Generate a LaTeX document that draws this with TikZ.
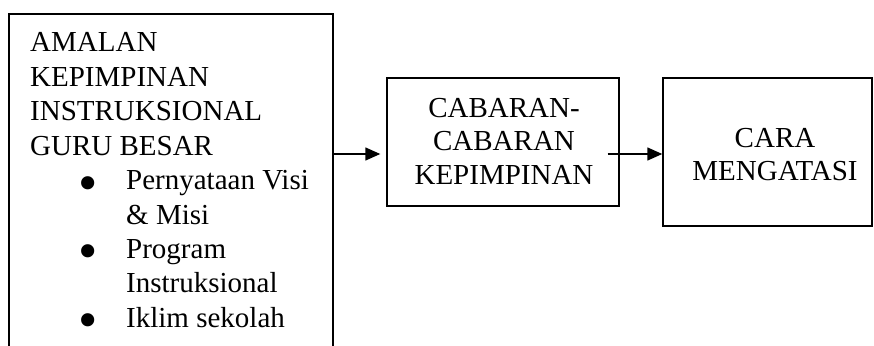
\documentclass[tikz,border=0pt]{standalone}
\usepackage{fontspec}
\setmainfont{Liberation Serif}
\usetikzlibrary{arrows.meta}

\tikzset{
  box/.style={draw, line width=1.4pt, inner sep=0pt, rectangle},
  label/.style={inner sep=0pt, anchor=base},
  flow/.style={line width=1.4pt, -{Triangle[length=15pt, width=13pt]}},
}
\newcommand{\bodyfont}{\fontsize{29}{34.4}\selectfont}
% large round list bullet
\newcommand{\bigdot}{\smash{\raisebox{-11.5pt}{\scalebox{1.9}{•}}}}
\newcommand{\listitem}{\hspace*{48pt}\makebox[48pt][l]{\bigdot}}

\begin{document}
\begin{tikzpicture}[x=1pt, y=-1pt]
  \useasboundingbox (0,0) rectangle (874,345);
  \clip (0,0) rectangle (874,345);

  % the three boxes (the first one runs past the lower edge)
  \node[box, minimum width=324pt, minimum height=386pt] (lead) at (171,207) {};
  \node[box, minimum width=232pt, minimum height=128pt] (chal) at (503,142) {};
  \node[box, minimum width=209pt, minimum height=148pt] (cope) at (767.5,152) {};

  % texts
  \node[inner sep=0pt, anchor=base west] (leadtext) at (30,52) {\parbox[t]{300pt}{\raggedright\bodyfont
    AMALAN\\
    KEPIMPINAN\\
    INSTRUKSIONAL\\
    GURU BESAR\\
    \listitem Pernyataan Visi\\
    \hspace*{96pt}\& Misi\\
    \listitem Program\\
    \hspace*{96pt}Instruksional\\
    \listitem Iklim sekolah}};

  \node[label] (chaltext) at (504,117) {\parbox[t]{220pt}{\centering\fontsize{29}{33.5}\selectfont
    CABARAN-\\CABARAN\\KEPIMPINAN}};

  \node[label] (copetext) at (775,147) {\parbox[t]{200pt}{\centering\fontsize{29}{33.5}\selectfont
    CARA\\MENGATASI}};

  % connectors
  \coordinate (row) at (0,154);
  \draw[flow] (lead.east |- row) -- ([xshift=-6pt]chal.west |- row);
  \draw[flow] ([xshift=-12pt]chal.east |- row) -- (cope.west |- row);
\end{tikzpicture}
\end{document}
